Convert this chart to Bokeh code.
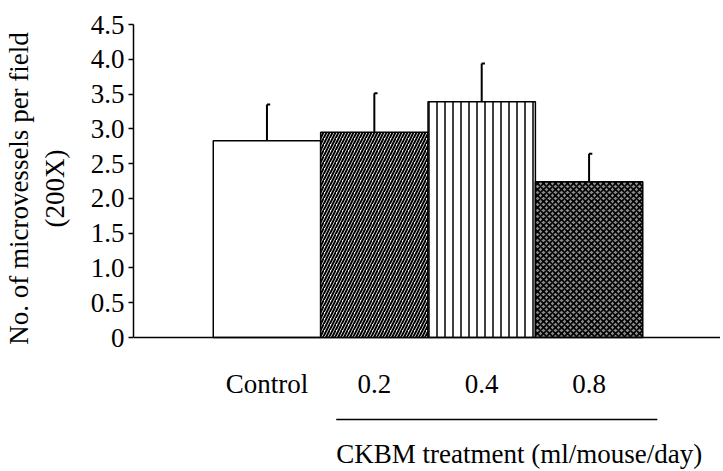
from bokeh.plotting import figure
from bokeh.models import Range1d, FixedTicker, ColumnDataSource, Span
from bokeh.layouts import column
from bokeh.core.properties import value
from bokeh.embed import file_html
from bokeh.resources import INLINE

# ---- data ----
categories = ["Control", "0.2", "0.4", "0.8"]
means = [2.83, 2.95, 3.39, 2.24]
errors = [0.52, 0.56, 0.55, 0.40]
y_ticks = [0, 0.5, 1.0, 1.5, 2.0, 2.5, 3.0, 3.5, 4.0, 4.5]
y_tick_labels = ["0", "0.5", "1.0", "1.5", "2.0", "2.5", "3.0", "3.5", "4.0", "4.5"]
group_label = "CKBM treatment (ml/mouse/day)"
group_members = [1, 3]          # indices of the treated groups spanned by the bracket
y_label = "No. of microvessels per field\n(200X)"

# ---- styles ----
fills = ["white", "white", "white", "#8c8c8c"]
hatches = [" ", "/", "|", "x"]
hatch_scales = [12, 6, 8, 6]
hatch_weights = [1, 2.0, 1.5, 1.6]

FONT = "Liberation Serif"
FS = "27px"
xs = list(range(len(categories)))
x_range = Range1d(-1.243, 4.224)

TOP_H = 352          # height of the main plot (frame bottom at page y 352, zero at 337)
PX_PER_UNIT = 313 / 4.5

src = ColumnDataSource(dict(x=xs, top=means, fill=fills, hatch=hatches,
                            hs=hatch_scales, hw=hatch_weights,
                            etop=[m + e for m, e in zip(means, errors)],
                            cap=[x + 0.03 for x in xs]))

# ---------- main plot ----------
p = figure(width=720, height=TOP_H, output_backend="svg", toolbar_location=None,
           x_range=x_range, y_range=Range1d(-(TOP_H - 337) / PX_PER_UNIT, 4.5),
           x_axis_location=None)
p.min_border_left = 133
p.min_border_right = 0
p.min_border_top = 24
p.min_border_bottom = 0
p.outline_line_color = None
p.xgrid.visible = False
p.ygrid.visible = False

p.vbar(x="x", top="top", bottom=0, width=1.0, source=src, fill_color="fill",
       line_color="black", line_width=1.5, hatch_pattern="hatch",
       hatch_scale="hs", hatch_weight="hw", hatch_color="black")
p.segment(x0="x", x1="x", y0="top", y1="etop", source=src, line_color="black", line_width=2)
p.segment(x0="x", x1="cap", y0="etop", y1="etop", source=src, line_color="black", line_width=2)
p.add_layout(Span(location=0, dimension="width", line_color="black", line_width=1.5))

ya = p.yaxis[0]
ya.bounds = (0, 4.5)
ya.ticker = FixedTicker(ticks=y_ticks)
ya.major_label_overrides = {t: l for t, l in zip(y_ticks, y_tick_labels)}
ya.minor_tick_line_color = None
ya.major_tick_out = 5
ya.major_tick_in = 0
ya.major_tick_line_width = 1.5
ya.axis_line_width = 1.5
ya.major_label_standoff = 4
ya.major_label_text_font = FONT
ya.major_label_text_font_size = FS
ya.major_label_text_color = "black"
ya.axis_label = y_label
ya.axis_label_text_font = FONT
ya.axis_label_text_font_style = "normal"
ya.axis_label_text_font_size = FS
ya.axis_label_text_color = "black"
ya.axis_label_standoff = 18

# ---------- category labels / bracket strip ----------
BOT_H = 471 - TOP_H
q = figure(width=720, height=BOT_H, output_backend="svg", toolbar_location=None,
           x_range=x_range, y_range=Range1d(BOT_H + TOP_H, TOP_H),
           x_axis_type=None, y_axis_type=None)
q.min_border_left = 133
q.min_border_right = 0
q.min_border_top = 0
q.min_border_bottom = 0
q.outline_line_color = None
q.xgrid.visible = False
q.ygrid.visible = False

q.text(x=xs, y=[383] * len(xs), text=categories, text_font=value(FONT),
       text_font_size=value(FS), text_align="center", text_baseline="middle",
       text_color="black")
q.segment(x0=[group_members[0] - 0.355], x1=[group_members[1] + 0.636],
          y0=[419], y1=[419], line_color="black", line_width=1.5)
q.text(x=[group_members[0] - 0.355], y=[453], text=[group_label], text_font=value(FONT),
       text_font_size=value(FS), text_align="left", text_baseline="middle",
       text_color="black")

layout = column(p, q, spacing=0)
open("out.html", "w").write(file_html(layout, INLINE))
